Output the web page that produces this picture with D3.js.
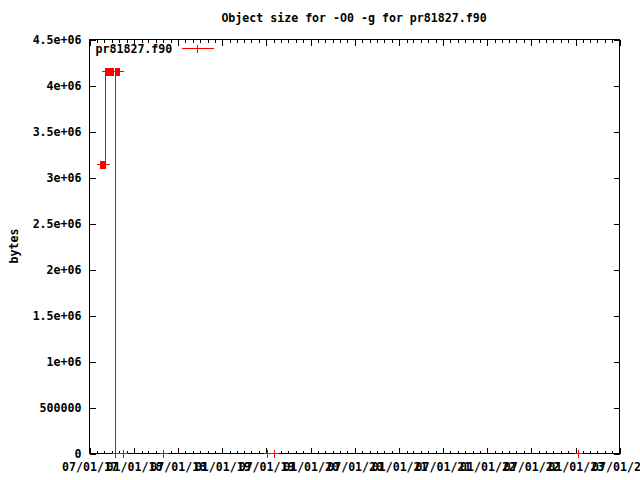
<!DOCTYPE html>
<html>
<head>
<meta charset="utf-8">
<script src="https://cdn.jsdelivr.net/npm/d3@7"></script>
<style>
	body { margin: 0; background: #fff; }
	text { font-family: "DejaVu Sans Mono", monospace; font-weight: bold; font-size: 11.6px; fill: #000; }
</style>
</head>
<body>
<div id="chart"></div>
<script>
	const title = "Object size for -O0 -g for pr81827.f90";
	const seriesName = "pr81827.f90";
	const yLabel = "bytes";

	// points in file order (the line follows this order)
	const dates = [
		"2017-08-14", "2017-08-18", "2017-08-22", "2017-08-26", "2017-08-30", "2017-09-03", "2017-09-07",
		"2017-09-07", "2017-09-11", "2017-09-15", "2017-09-19", "2017-09-23", "2017-09-27", "2017-10-01", "2017-10-05", "2017-10-09",
		"2017-11-01", "2017-10-28", "2017-10-24", "2017-10-20", "2017-10-16",
		"2017-10-16", "2017-11-17", "2018-05-04", "2019-07-06", "2019-08-06", "2023-01-11"
	];
	const sizes = [
		3140000, 3140000, 3140000, 3140000, 3140000, 3140000, 3140000,
		4150000, 4150000, 4150000, 4150000, 4150000, 4150000, 4150000, 4150000, 4150000,
		4150000, 4150000, 4150000, 4150000, 4150000,
		0, 0, 0, 0, 0, 0
	];

	const xRange = ["2017-07-01", "2023-07-01"];
	const yTicks = [0, 500000, 1000000, 1500000, 2000000, 2500000, 3000000, 3500000, 4000000, 4500000];
	const yTickLabels = ["0", "500000", "1e+06", "1.5e+06", "2e+06", "2.5e+06", "3e+06", "3.5e+06", "4e+06", "4.5e+06"];

	const width = 640, height = 480;
	const margin = { top: 39, right: 21, bottom: 27, left: 89 };
	const innerWidth = width - margin.left - margin.right;
	const innerHeight = height - margin.top - margin.bottom;
	const parse = d3.timeParse("%Y-%m-%d");

	const data = dates.map((d, i) => ({ date: parse(d), size: sizes[i] }));

	const svg = d3.select("#chart").append("svg")
		.attr("width", width).attr("height", height);

	const g = svg.append("g")
		.attr("transform", `translate(${margin.left + 0.5},${margin.top + 0.5})`);

	const xScale = d3.scaleTime()
		.domain(xRange.map(parse))
		.range([0, innerWidth]);
	const yScale = d3.scaleLinear()
		.domain([yTicks[0], yTicks[yTicks.length - 1]])
		.range([innerHeight, 0]);

	const px = d => Math.round(xScale(d.date));
	const py = d => Math.round(yScale(d.size));

	// axes, ticks point inward
	const styleAxis = sel => {
		sel.selectAll(".domain").remove();
		sel.attr("font-family", null).attr("font-size", null);
		sel.selectAll("line").attr("stroke", "#000").attr("shape-rendering", "crispEdges");
	};

	g.append("g").attr("transform", `translate(0,${innerHeight})`)
		.call(d3.axisBottom(xScale).ticks(d3.timeMonth.every(1)).tickSize(-3).tickFormat(""))
		.call(styleAxis);
	g.append("g").call(d3.axisTop(xScale).ticks(d3.timeMonth.every(1)).tickSize(-3).tickFormat(""))
		.call(styleAxis);
	g.append("g").attr("transform", `translate(0,${innerHeight})`)
		.call(d3.axisBottom(xScale).ticks(d3.timeMonth.every(6)).tickSize(-6).tickPadding(9)
			.tickFormat(d3.timeFormat("%m/%d/%y")))
		.call(styleAxis);
	g.append("g").call(d3.axisTop(xScale).ticks(d3.timeMonth.every(6)).tickSize(-6).tickFormat(""))
		.call(styleAxis);

	g.append("g")
		.call(d3.axisLeft(yScale).tickValues(yTicks).tickSize(-6).tickPadding(8)
			.tickFormat((d, i) => yTickLabels[i]))
		.call(styleAxis);
	g.append("g").attr("transform", `translate(${innerWidth},0)`)
		.call(d3.axisRight(yScale).tickValues(yTicks).tickSize(-6).tickFormat(""))
		.call(styleAxis);

	// series line
	const line = d3.line().x(px).y(py);
	g.append("path")
		.datum(data)
		.attr("d", line)
		.attr("fill", "none")
		.attr("stroke", "#ff0000")
		.attr("stroke-width", 1);

	// border drawn over the line
	g.append("rect")
		.attr("width", innerWidth).attr("height", innerHeight)
		.attr("fill", "none").attr("stroke", "#000")
		.attr("shape-rendering", "crispEdges");

	// + markers
	const plus = (x, y) => `M${x - 4},${y}H${x + 4}M${x},${y - 4}V${y + 4}`;
	g.append("path")
		.attr("d", data.map(d => plus(px(d), py(d))).join(""))
		.attr("fill", "none")
		.attr("stroke", "#ff0000")
		.attr("shape-rendering", "crispEdges");

	// legend
	const key = g.append("g").attr("transform", "translate(6,9)");
	key.append("text").attr("x", 0).attr("y", 4).text(seriesName);
	key.append("path")
		.attr("d", `M86,0H118` + plus(102, 0))
		.attr("stroke", "#ff0000").attr("fill", "none")
		.attr("shape-rendering", "crispEdges");

	// title and y label
	svg.append("text")
		.attr("x", margin.left + innerWidth / 2).attr("y", 22)
		.attr("text-anchor", "middle")
		.text(title);
	svg.append("text")
		.attr("transform", `translate(18,${margin.top + innerHeight / 2}) rotate(-90)`)
		.attr("text-anchor", "middle")
		.text(yLabel);
</script>
</body>
</html>
